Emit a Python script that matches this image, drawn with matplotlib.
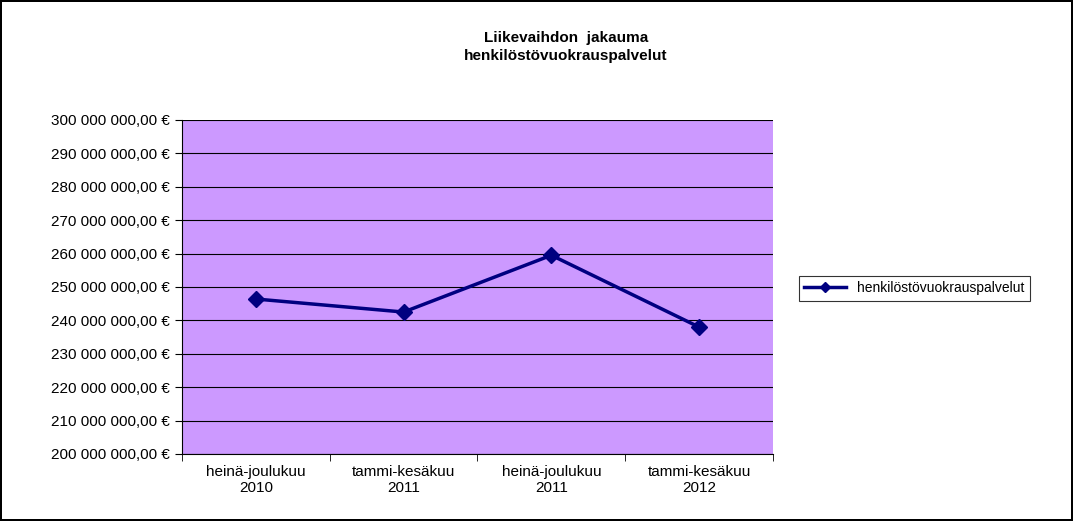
import matplotlib
matplotlib.use("Agg")
import matplotlib.pyplot as plt
from matplotlib.ticker import FuncFormatter, MultipleLocator

periods = ["heinä-joulukuu\n2010", "tammi-kesäkuu\n2011", "heinä-joulukuu\n2011", "tammi-kesäkuu\n2012"]
values = [246400000, 242500000, 259500000, 238000000]
series_name = "henkilöstövuokrauspalvelut"

plt.rcParams['font.family'] = ['Liberation Sans', 'DejaVu Sans']

fig = plt.figure(figsize=(10.73, 5.21), dpi=100)
fig.patch.set_edgecolor("black")
fig.patch.set_linewidth(1.5)
ax = fig.add_axes([0.1696, 0.1286, 0.5508, 0.6411])
ax.set_facecolor("#CC99FF")

x = range(len(periods))
ax.plot(x, values, color="#000080", linewidth=2.5, marker="D", markersize=8, label=series_name)

ax.set_xlim(-0.5, len(periods) - 0.5)
ax.set_ylim(200000000, 300000000)
ax.yaxis.set_major_locator(MultipleLocator(10000000))
ax.yaxis.grid(True, color="black", linewidth=0.8)
ax.set_axisbelow(True)

def fmt(v, pos):
    s = f"{int(round(v)):,}".replace(",", " ")
    return s + ",00 €"
ax.yaxis.set_major_formatter(FuncFormatter(fmt))
ax.set_xticks(list(x))
ax.set_xticklabels(periods, fontsize=11)
ax.tick_params(axis="y", labelsize=11, direction="out", length=5)
ax.tick_params(axis="x", length=5, direction="out")
ax.set_xticks([i + 0.5 for i in range(-1, len(periods))], minor=True)
ax.tick_params(axis="x", which="minor", length=5)
ax.tick_params(axis="x", which="major", length=0, pad=8)
for side in ["top", "right"]:
    ax.spines[side].set_visible(False)

fig.text(0.5275, 0.91, "Liikevaihdon  jakauma\nhenkilöstövuokrauspalvelut", ha="center", va="center",
         fontsize=11, fontweight="bold", linespacing=1.3)

leg = fig.legend(loc="center left", bbox_to_anchor=(0.738, 0.447), frameon=True, fancybox=False,
                 edgecolor="black", fontsize=10, handlelength=3, markerscale=0.6)
leg.get_frame().set_linewidth(0.8)

fig.savefig("out.png", dpi=100, edgecolor=fig.get_edgecolor())
